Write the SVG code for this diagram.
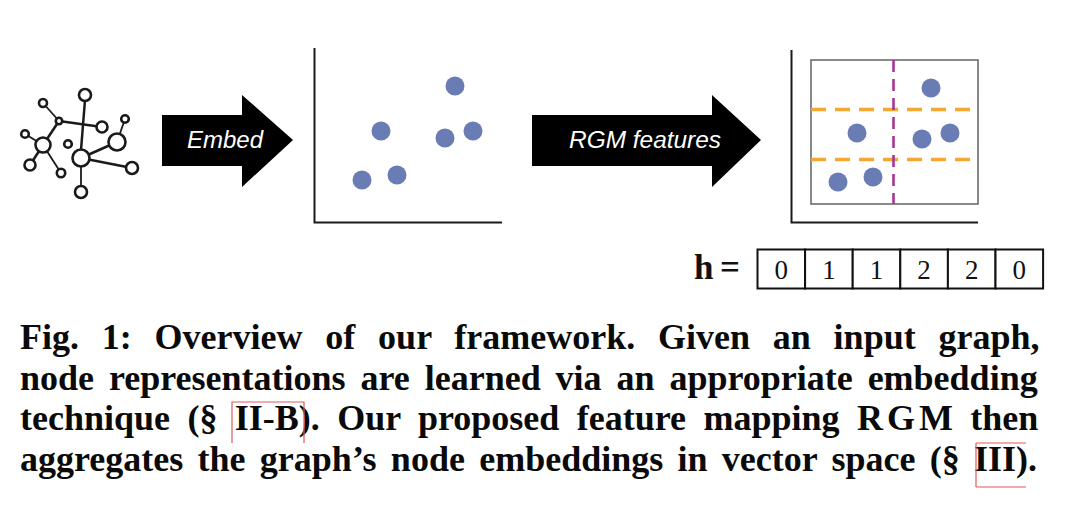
<svg xmlns="http://www.w3.org/2000/svg" width="1080" height="505" viewBox="0 0 1080 505">
<style>
.bg{fill:#ffffff}
.gn{fill:#ffffff;stroke:#1a1a1a;stroke-width:2.6}
.ge{stroke:#1a1a1a;stroke-width:2.5;fill:none}
.get{stroke:#1a1a1a;stroke-width:1.8;fill:none}
.arrow{fill:#000000}
.alabel{font-family:"Liberation Sans",Arial,sans-serif;font-style:italic;font-size:23px;fill:#ffffff;text-anchor:middle}
.axis{stroke:#1a1a1a;stroke-width:2;fill:none}
.dot{fill:#6a7cb4}
.frame{fill:none;stroke:#6b6b6b;stroke-width:1.6}
.odash{stroke:#f2a832;stroke-width:3.5;stroke-dasharray:15 9;fill:none}
.mdash{stroke:#a8359a;stroke-width:2.6;stroke-dasharray:12 7;fill:none}
.hlab{font-family:"Liberation Serif","Times New Roman",serif;font-weight:bold;font-size:35px;fill:#111}
.cell{fill:#ffffff;stroke:#111;stroke-width:2}
.digit{font-family:"Liberation Serif","Times New Roman",serif;font-size:27px;fill:#111;text-anchor:middle}
.cap{font-family:"Liberation Serif","Times New Roman",serif;font-weight:bold;font-size:36px;fill:#0a0a0a}
.link{fill:none;stroke:#e05a5a;stroke-width:1.2}
</style>
<rect class="bg" x="0" y="0" width="1080" height="505"/>

<g id="input-graph">
  <line class="ge" x1="85" y1="100" x2="81" y2="150"/>
  <line class="get" x1="43" y1="103" x2="59" y2="121"/>
  <line class="ge" x1="59" y1="121" x2="102" y2="127"/>
  <line class="ge" x1="59" y1="121" x2="43" y2="145"/>
  <line class="get" x1="25" y1="134" x2="43" y2="145"/>
  <line class="ge" x1="43" y1="145" x2="30" y2="165"/>
  <line class="get" x1="43" y1="145" x2="61" y2="173"/>
  <line class="ge" x1="81" y1="158" x2="117" y2="142"/>
  <line class="ge" x1="81" y1="158" x2="132" y2="168"/>
  <line class="get" x1="81" y1="158" x2="81" y2="192"/>
  <line class="get" x1="117" y1="142" x2="125" y2="119"/>
  <circle class="gn" cx="85" cy="95" r="6"/>
  <circle class="gn" cx="43" cy="103" r="4"/>
  <circle class="gn" cx="59" cy="121" r="3.2"/>
  <circle class="gn" cx="102" cy="127" r="5.5"/>
  <circle class="gn" cx="125" cy="119" r="3.8"/>
  <circle class="gn" cx="117" cy="142" r="8.5"/>
  <circle class="gn" cx="25" cy="134" r="3.8"/>
  <circle class="gn" cx="43" cy="145" r="7.5"/>
  <circle class="gn" cx="68" cy="144" r="3.8"/>
  <circle class="gn" cx="81" cy="158" r="8.5"/>
  <circle class="gn" cx="30" cy="165" r="5.5"/>
  <circle class="gn" cx="61" cy="173" r="4.2"/>
  <circle class="gn" cx="132" cy="168" r="6"/>
  <circle class="gn" cx="81" cy="192" r="6"/>
</g>

<g id="connectors">
  <g id="embed-arrow">
    <polygon class="arrow" points="162,115 242,115 242,95 293,140 242,187 242,166 162,166"/>
    <text class="alabel" x="225" y="148" textLength="76" lengthAdjust="spacingAndGlyphs">Embed</text>
  </g>
  <g id="rgm-arrow">
    <polygon class="arrow" points="532,115 712,115 712,95 761,140 712,187 712,166 532,166"/>
    <text class="alabel" x="645" y="148" textLength="152" lengthAdjust="spacingAndGlyphs">RGM features</text>
  </g>
</g>

<g id="embedding-plot">
  <path class="axis" d="M314.5,48 L314.5,222.5 L502,222.5"/>
  <circle class="dot" cx="455" cy="86" r="9.5"/>
  <circle class="dot" cx="381" cy="131" r="9.5"/>
  <circle class="dot" cx="445" cy="138" r="9.5"/>
  <circle class="dot" cx="473" cy="131" r="9.5"/>
  <circle class="dot" cx="362" cy="180" r="9.5"/>
  <circle class="dot" cx="397" cy="175" r="9.5"/>
</g>

<g id="rgm-plot">
  <path class="axis" d="M791.5,50 L791.5,222.5 L978,222.5"/>
  <rect class="frame" x="811" y="60" width="167" height="144"/>
  <line class="odash" x1="811" y1="109.5" x2="978" y2="109.5"/>
  <line class="odash" x1="811" y1="159.5" x2="978" y2="159.5"/>
  <line class="mdash" x1="893.5" y1="60" x2="893.5" y2="204"/>
  <circle class="dot" cx="931" cy="88" r="9.5"/>
  <circle class="dot" cx="857" cy="133" r="9.5"/>
  <circle class="dot" cx="922" cy="139" r="9.5"/>
  <circle class="dot" cx="950" cy="133" r="9.5"/>
  <circle class="dot" cx="838" cy="182" r="9.5"/>
  <circle class="dot" cx="873" cy="177" r="9.5"/>
</g>

<g id="histogram-vector">
  <text class="hlab" x="694" y="279">h</text>
  <text class="hlab" x="720" y="279">=</text>
  <rect class="cell" x="757.5" y="249.5" width="47.6" height="39"/>
  <rect class="cell" x="805.1" y="249.5" width="47.6" height="39"/>
  <rect class="cell" x="852.7" y="249.5" width="47.6" height="39"/>
  <rect class="cell" x="900.3" y="249.5" width="47.6" height="39"/>
  <rect class="cell" x="947.9" y="249.5" width="47.6" height="39"/>
  <rect class="cell" x="995.5" y="249.5" width="47.6" height="39"/>
  <text class="digit" x="781.3" y="279">0</text>
  <text class="digit" x="828.9" y="279">1</text>
  <text class="digit" x="876.5" y="279">1</text>
  <text class="digit" x="924.1" y="279">2</text>
  <text class="digit" x="971.7" y="279">2</text>
  <text class="digit" x="1019.3" y="279">0</text>
</g>

<g id="caption">
  <text class="cap" x="20" y="349" style="word-spacing:13.8px">Fig. 1: Overview of our framework. Given an input graph,</text>
  <text class="cap" x="20" y="390" style="word-spacing:5.9px">node representations are learned via an appropriate embedding</text>
  <text class="cap" x="20" y="430" style="word-spacing:8.4px">technique (§ II-B). Our proposed feature mapping <tspan style="letter-spacing:4px">RG</tspan>M then</text>
  <text class="cap" x="20" y="471" style="word-spacing:5.3px">aggregates the graph’s node embeddings in vector space (§ III).</text>
  <path class="link" d="M232,443 L232,402 L304,402 L304,443"/>
  <path class="link" d="M976,443 L976,487 M976,443 L1026,443 M976,487 L1026,487"/>
</g>
</svg>
